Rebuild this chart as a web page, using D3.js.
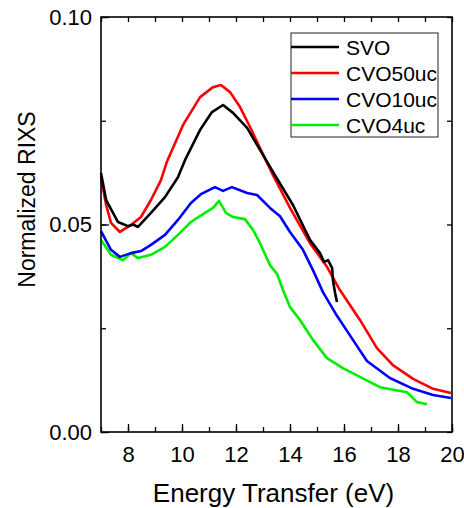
<!DOCTYPE html>
<html>
<head>
<meta charset="utf-8">
<script src="https://cdn.jsdelivr.net/npm/d3@7"></script>
<style>
  body { margin: 0; background: #fff; }
  svg { display: block; font-family: "Liberation Sans", Arial, sans-serif; }
</style>
</head>
<body>
<svg id="chart"></svg>
<script>
// energy transfer (eV) and normalized RIXS
const svoE = [7.0, 7.19, 7.63, 8.0, 8.19, 8.37, 8.85, 9.37, 9.85, 10.11, 10.67, 11.11, 11.52, 11.89, 12.41, 12.89, 13.37, 14.11, 14.74, 15.11, 15.26, 15.41, 15.56, 15.59, 15.67, 15.74];
const svoI = [0.0624, 0.0559, 0.0506, 0.0496, 0.0500, 0.0494, 0.0528, 0.0566, 0.0614, 0.0655, 0.0728, 0.0771, 0.0788, 0.0769, 0.0733, 0.0680, 0.0627, 0.0547, 0.0463, 0.0431, 0.0410, 0.0414, 0.0395, 0.0366, 0.0335, 0.0313];

const cvo50E = [7.0, 7.19, 7.37, 7.70, 8.11, 8.48, 8.85, 9.22, 9.44, 10.04, 10.67, 11.15, 11.44, 11.78, 12.15, 12.52, 12.89, 13.37, 14.0, 14.74, 15.37, 15.85, 16.59, 17.22, 17.81, 18.56, 19.3, 19.96];
const cvo50I = [0.0614, 0.0547, 0.0504, 0.0482, 0.0499, 0.0518, 0.0559, 0.0607, 0.0651, 0.0740, 0.0807, 0.0831, 0.0836, 0.0819, 0.0783, 0.0735, 0.0684, 0.0619, 0.0540, 0.0455, 0.0398, 0.0342, 0.0270, 0.0202, 0.0161, 0.0128, 0.0104, 0.0094];

const cvo10E = [7.0, 7.37, 7.70, 8.11, 8.48, 8.85, 9.37, 9.85, 10.33, 10.7, 11.22, 11.52, 11.85, 12.41, 12.78, 13.26, 13.63, 14.0, 14.48, 14.85, 15.22, 15.74, 16.33, 16.85, 17.7, 18.56, 19.3, 19.96];
const cvo10I = [0.0484, 0.0439, 0.0422, 0.0431, 0.0436, 0.0451, 0.0475, 0.0511, 0.0552, 0.0573, 0.0590, 0.0581, 0.0590, 0.0576, 0.0571, 0.0540, 0.0520, 0.0482, 0.0439, 0.0390, 0.0337, 0.0280, 0.0222, 0.0171, 0.0130, 0.0104, 0.0089, 0.0082];

const cvo4E = [7.0, 7.37, 7.81, 8.11, 8.37, 8.85, 9.37, 9.85, 10.33, 10.85, 11.15, 11.37, 11.63, 11.89, 12.33, 12.63, 12.89, 13.26, 13.52, 13.74, 14.0, 14.37, 14.85, 15.37, 15.96, 16.59, 17.33, 18.33, 18.7, 19.07];
const cvo4I = [0.0463, 0.0427, 0.0414, 0.0431, 0.0419, 0.0427, 0.0446, 0.0475, 0.0506, 0.0528, 0.0540, 0.0557, 0.0528, 0.0518, 0.0513, 0.0487, 0.0455, 0.0402, 0.0381, 0.0342, 0.0301, 0.0270, 0.0222, 0.0178, 0.0154, 0.0133, 0.0108, 0.0096, 0.0072, 0.0067];

const seriesNames = ["SVO", "CVO50uc", "CVO10uc", "CVO4uc"];
const seriesColors = ["#000000", "#ff0000", "#0000ff", "#00ee00"];

const xTicks = [8, 10, 12, 14, 16, 18, 20];
const yTicks = [0.00, 0.05, 0.10];

const width = 464;
const height = 508;
const margin = {top: 17, right: 12, bottom: 76, left: 101};

const svg = d3.select("#chart")
    .attr("width", width)
    .attr("height", height)
    .attr("viewBox", [0, 0, width, height]);

const x = d3.scaleLinear()
    .domain([7, 20])
    .range([margin.left, width - margin.right]);

const y = d3.scaleLinear()
    .domain([0, 0.10])
    .range([height - margin.bottom, margin.top]);

const series = [
    {name: seriesNames[0], color: seriesColors[0], e: svoE, v: svoI},
    {name: seriesNames[1], color: seriesColors[1], e: cvo50E, v: cvo50I},
    {name: seriesNames[2], color: seriesColors[2], e: cvo10E, v: cvo10I},
    {name: seriesNames[3], color: seriesColors[3], e: cvo4E, v: cvo4I}
];

const line = d3.line()
    .x(d => x(d[0]))
    .y(d => y(d[1]));

// curves, drawn so the black one ends up on top like in the figure
const order = [3, 2, 1, 0];
svg.append("g")
    .selectAll("path")
    .data(order.map(i => series[i]))
    .join("path")
    .attr("fill", "none")
    .attr("stroke", d => d.color)
    .attr("stroke-width", 2.6)
    .attr("stroke-linejoin", "round")
    .attr("d", d => line(d.e.map((e, i) => [e, d.v[i]])));

// axes: ticks point inward on all four sides
const xMinor = d3.range(7, 20.01, 1);
const yMinor = d3.range(0, 0.1001, 0.025);

svg.append("g")
    .attr("transform", `translate(0,${height - margin.bottom})`)
    .call(d3.axisBottom(x).tickValues(xMinor).tickSize(-5).tickFormat(""))
    .call(g => g.select(".domain").remove())
    .call(g => g.selectAll("line").attr("stroke-width", 1.3));

svg.append("g")
    .attr("transform", `translate(0,${height - margin.bottom})`)
    .call(d3.axisBottom(x).tickValues(xTicks).tickSize(-8).tickPadding(14).tickFormat(d3.format("d")))
    .call(g => g.select(".domain").remove())
    .call(g => g.selectAll("line").attr("stroke-width", 1.3))
    .call(g => g.selectAll("text").attr("font-size", 22).attr("fill", "#000")
        .attr("font-family", "Liberation Sans, Arial, sans-serif"));

svg.append("g")
    .attr("transform", `translate(0,${margin.top})`)
    .call(d3.axisTop(x).tickValues(xMinor).tickSize(-5).tickFormat(""))
    .call(g => g.select(".domain").remove())
    .call(g => g.selectAll("line").attr("stroke-width", 1.3));

svg.append("g")
    .attr("transform", `translate(${margin.left},0)`)
    .call(d3.axisLeft(y).tickValues(yMinor).tickSize(-5).tickFormat(""))
    .call(g => g.select(".domain").remove())
    .call(g => g.selectAll("line").attr("stroke-width", 1.3));

svg.append("g")
    .attr("transform", `translate(${margin.left},0)`)
    .call(d3.axisLeft(y).tickValues(yTicks).tickSize(-8).tickPadding(9).tickFormat(d3.format(".2f")))
    .call(g => g.select(".domain").remove())
    .call(g => g.selectAll("line").attr("stroke-width", 1.3))
    .call(g => g.selectAll("text").attr("font-size", 22).attr("fill", "#000")
        .attr("font-family", "Liberation Sans, Arial, sans-serif"));

svg.append("g")
    .attr("transform", `translate(${width - margin.right},0)`)
    .call(d3.axisRight(y).tickValues(yMinor).tickSize(-5).tickFormat(""))
    .call(g => g.select(".domain").remove())
    .call(g => g.selectAll("line").attr("stroke-width", 1.3));

// frame
svg.append("rect")
    .attr("x", margin.left)
    .attr("y", margin.top)
    .attr("width", width - margin.left - margin.right)
    .attr("height", height - margin.top - margin.bottom)
    .attr("fill", "none")
    .attr("stroke", "#000")
    .attr("stroke-width", 1.6);

// axis titles
svg.append("text")
    .attr("x", (margin.left + width - margin.right) / 2 - 3)
    .attr("y", 502)
    .attr("text-anchor", "middle")
    .attr("font-size", 26)
    .text("Energy Transfer (eV)");

svg.append("text")
    .attr("transform", `translate(35,${(margin.top + height - margin.bottom) / 2 - 25}) rotate(-90)`)
    .attr("text-anchor", "middle")
    .attr("font-size", 23)
    .text("Normalized RIXS");

// legend
const legend = svg.append("g").attr("transform", "translate(291,33)");
legend.append("rect")
    .attr("width", 147)
    .attr("height", 104)
    .attr("fill", "#fff")
    .attr("stroke", "#222")
    .attr("stroke-width", 1);

const item = legend.selectAll("g.item")
    .data(series)
    .join("g")
    .attr("class", "item")
    .attr("transform", (d, i) => `translate(0,${14 + i * 26})`);

item.append("line")
    .attr("x1", 0)
    .attr("x2", 48)
    .attr("stroke", d => d.color)
    .attr("stroke-width", 2.6);

item.append("text")
    .attr("x", 55)
    .attr("y", 7.5)
    .attr("font-size", 21)
    .text(d => d.name);
</script>
</body>
</html>
